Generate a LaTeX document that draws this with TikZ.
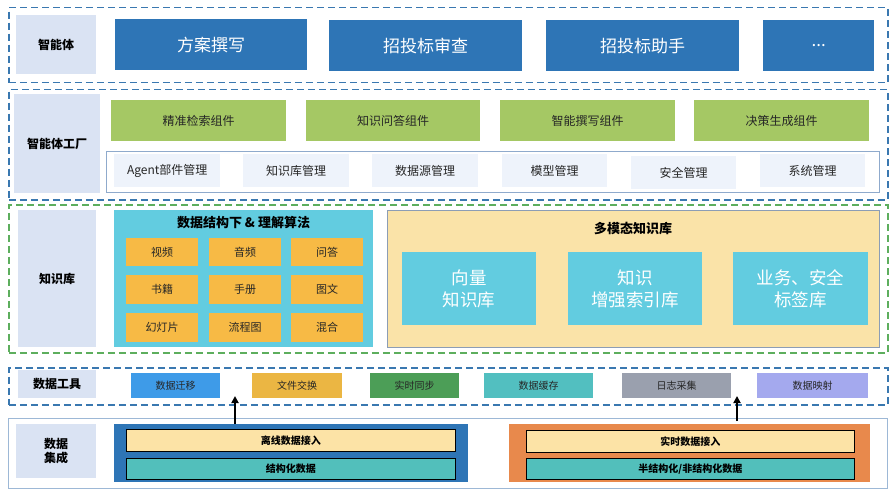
\documentclass[tikz,border=0pt]{standalone}
\usepackage{fontspec}
\setmainfont{Noto Sans CJK SC}
\usetikzlibrary{arrows.meta}
\definecolor{labelbg}{HTML}{DAE3F3}
\definecolor{dkblue}{HTML}{2E75B6}
\definecolor{dashblue}{HTML}{3A78B0}
\definecolor{dashgreen}{HTML}{5DAE5D}
\definecolor{compgreen}{HTML}{A5C864}
\definecolor{mgmtbg}{HTML}{EEF3FB}
\definecolor{mgmtframe}{HTML}{8FAACC}
\definecolor{cyanbox}{HTML}{62CCE0}
\definecolor{cellorange}{HTML}{F7BA45}
\definecolor{yellowbg}{HTML}{FAE3A8}
\definecolor{yellowframe}{HTML}{8C9DB5}
\definecolor{tblue}{HTML}{3E9BE8}
\definecolor{tyellow}{HTML}{EBB643}
\definecolor{tgreen}{HTML}{4C9E57}
\definecolor{tteal}{HTML}{52BFC0}
\definecolor{tgray}{HTML}{9AA0AE}
\definecolor{tviolet}{HTML}{A4A9EE}
\definecolor{intorange}{HTML}{E8894C}
\definecolor{inyellow}{HTML}{FCE3A6}
\definecolor{inteal}{HTML}{52BFBB}
\definecolor{frameblue}{HTML}{9DB8D6}
\newcommand\mybox[7]{\node[#2, anchor=north west, minimum width={#5pt-#3pt}, minimum height={#6pt-#4pt}, inner sep=0pt, align=center] (#1) at (#3pt,-#4pt) {#7};}
\tikzset{
  layerblue/.style={draw=dashblue, dash pattern=on 7pt off 4pt, line width=1.5pt},
  layergreen/.style={draw=dashgreen, dash pattern=on 7pt off 4pt, line width=1.5pt},
  lbl/.style={fill=labelbg, font=\fontsize{12}{14}\selectfont\bfseries},
  agent/.style={fill=dkblue, text=white, font=\fontsize{17}{20}\selectfont},
  comp/.style={fill=compgreen, text=black!85, font=\fontsize{12}{14}\selectfont},
  mgmt/.style={fill=mgmtbg, text=black!85, font=\fontsize{12}{14}\selectfont},
  cell/.style={fill=cellorange, text=black!85, font=\fontsize{11}{13}\selectfont},
  kb/.style={fill=cyanbox, text=white, font=\fontsize{17.5}{22}\selectfont},
  tool/.style={text=black!85, font=\fontsize{10}{12}\selectfont},
  inbar/.style={draw=black, line width=0.8pt, font=\fontsize{10}{12}\selectfont\bfseries},
  uparrow/.style={line width=2pt, -{Triangle[length=7pt,width=7pt]}}
}
\begin{document}
\begin{tikzpicture}[x=1pt,y=1pt]
\useasboundingbox (0,0) rectangle (893,-492);
\fill[white] (0,0) rectangle (893,-492);
% layer 1
\mybox{L1}{layerblue}{8}{7}{887}{82}{}
\mybox{L1l}{lbl}{16}{15}{96}{74}{智能体}
\mybox{a1}{agent}{115}{19}{307}{70}{方案撰写}
\mybox{a2}{agent}{329}{20}{522}{71}{招投标审查}
\mybox{a3}{agent}{546}{20}{739}{71}{招投标助手}
\mybox{a4}{agent}{763}{20}{874}{71}{\raisebox{-2pt}{...}}
% layer 2
\mybox{L2}{layerblue}{8}{89}{887}{199}{}
\mybox{L2l}{lbl}{14}{94}{100}{193}{智能体工厂}
\mybox{c1}{comp}{111}{100}{286}{141}{精准检索组件}
\mybox{c2}{comp}{306}{100}{480}{141}{知识问答组件}
\mybox{c3}{comp}{500}{100}{675}{141}{智能撰写组件}
\mybox{c4}{comp}{694}{100}{869}{141}{决策生成组件}
\mybox{mf}{draw=mgmtframe, line width=0.8pt}{106}{151}{879}{192}{}
\mybox{m1}{mgmt}{114}{154}{220}{187}{Agent部件管理}
\mybox{m2}{mgmt}{243}{154}{349}{187}{知识库管理}
\mybox{m3}{mgmt}{372}{154}{478}{187}{数据源管理}
\mybox{m4}{mgmt}{502}{154}{607}{187}{模型管理}
\mybox{m5}{mgmt}{631}{156}{736}{189}{安全管理}
\mybox{m6}{mgmt}{760}{154}{865}{187}{系统管理}
% layer 3
\mybox{L3}{layergreen}{8}{204}{887}{352}{}
\mybox{L3l}{lbl}{18}{210}{96}{347}{知识库}
\mybox{ds}{fill=cyanbox}{114}{210}{373}{347}{}
\node[font=\fontsize{13}{15}\selectfont\bfseries] (dst) at (243.5,-223) {数据结构下 \& 理解算法};
\mybox{k11}{cell}{126}{238}{198}{266}{视频}
\mybox{k12}{cell}{209}{238}{281}{266}{音频}
\mybox{k13}{cell}{291}{238}{363}{266}{问答}
\mybox{k21}{cell}{126}{275}{198}{304}{书籍}
\mybox{k22}{cell}{209}{275}{281}{304}{手册}
\mybox{k23}{cell}{291}{275}{363}{304}{图文}
\mybox{k31}{cell}{126}{313}{198}{342}{幻灯片}
\mybox{k32}{cell}{209}{313}{281}{342}{流程图}
\mybox{k33}{cell}{291}{313}{363}{342}{混合}
\mybox{mm}{fill=yellowbg, draw=yellowframe, line width=0.8pt}{387}{210}{879}{347}{}
\node[font=\fontsize{13}{15}\selectfont\bfseries] (mmt) at (633,-228) {多模态知识库};
\mybox{v1}{kb}{402}{252}{536}{325}{向量\\知识库}
\mybox{v2}{kb}{568}{252}{702}{325}{知识\\增强索引库}
\mybox{v3}{kb}{733}{252}{868}{325}{业务、安全\\标签库}
% layer 4
\mybox{L4}{layerblue}{8}{367}{887}{404}{}
\mybox{L4l}{lbl}{18}{370}{96}{398}{数据工具}
\mybox{t1}{tool, fill=tblue}{131}{373}{220}{398}{数据迁移}
\mybox{t2}{tool, fill=tyellow}{252}{373}{342}{398}{文件交换}
\mybox{t3}{tool, fill=tgreen}{370}{373}{459}{398}{实时同步}
\mybox{t4}{tool, fill=tteal}{484}{373}{593}{398}{数据缓存}
\mybox{t5}{tool, fill=tgray}{622}{373}{731}{398}{日志采集}
\mybox{t6}{tool, fill=tviolet}{757}{373}{868}{398}{数据映射}
% layer 5
\mybox{L5}{draw=frameblue, line width=0.8pt}{8}{418}{887}{488}{}
\mybox{L5l}{lbl}{16}{424}{96}{478}{数据\\集成}
\mybox{off}{fill=dkblue}{114}{424}{468}{482}{}
\mybox{off1}{inbar, fill=inyellow}{126}{429}{455}{451}{离线数据接入}
\mybox{off2}{inbar, fill=inteal}{126}{458}{455}{479}{结构化数据}
\mybox{rt}{fill=intorange}{509}{424}{870}{482}{}
\mybox{rt1}{inbar, fill=inyellow}{526}{430}{854}{452}{实时数据接入}
\mybox{rt2}{inbar, fill=inteal}{526}{458}{854}{479}{半结构化/非结构化数据}
% arrows
\coordinate (e1) at (235,-396);
\coordinate (e2) at (737,-396);
\draw[uparrow] (off.north -| e1) -- (e1);
\draw[uparrow] (rt.north -| e2) ++(0,3) -- (e2);
\end{tikzpicture}
\end{document}
